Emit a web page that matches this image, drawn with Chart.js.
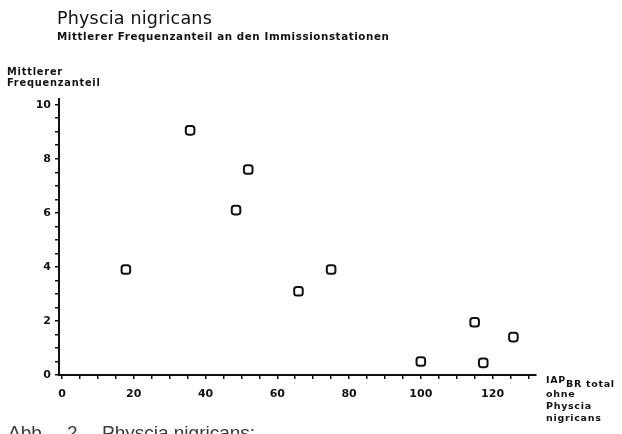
<!DOCTYPE html>
<html lang="de">
<head>
    <meta charset="UTF-8">
    <title>Physcia nigricans</title>
    <script src="https://cdn.jsdelivr.net/npm/chart.js"></script>
    <style>
        body { margin: 0; background: #fff; }
        canvas { display: block; }
    </style>
</head>
<body>
    <canvas id="scatterChart" width="622" height="434"></canvas>

    <script>
        // Werte
        const iapValues = [17.8, 35.7, 48.5, 51.9, 65.9, 75.0, 100.0, 115.0, 117.4, 125.8];
        const frequenzValues = [3.9, 9.05, 6.1, 7.6, 3.1, 3.9, 0.5, 1.95, 0.45, 1.4];

        const xTickLabels = [0, 20, 40, 60, 80, 100, 120];
        const yTickLabels = [0, 2, 4, 6, 8, 10];

        const titleText = 'Physcia nigricans';
        const subtitleText = 'Mittlerer Frequenzanteil an den Immissionstationen';
        const yTitleLines = ['Mittlerer', 'Frequenzanteil'];
        const xTitleLines = ['ohne', 'Physcia', 'nigricans'];

        const ink = '#111';
        const tickFont = { family: 'DejaVu Sans', size: 11, weight: 'bold' };

        // Beschriftungen ausserhalb der Achsen
        const textPlugin = {
            id: 'texts',
            afterDraw(chart) {
                const ctx = chart.ctx;
                ctx.save();
                ctx.fillStyle = ink;
                ctx.textAlign = 'left';
                ctx.textBaseline = 'alphabetic';

                ctx.font = '17.5px "DejaVu Sans"';
                ctx.letterSpacing = '0.2px';
                ctx.fillText(titleText, 57, 24);

                ctx.font = 'bold 10.3px "DejaVu Sans"';
                ctx.letterSpacing = '0.6px';
                ctx.fillText(subtitleText, 57, 40);

                ctx.font = 'bold 9.8px "DejaVu Sans"';
                ctx.letterSpacing = '0.8px';
                ctx.fillText(yTitleLines[0], 7, 75);
                ctx.fillText(yTitleLines[1], 7, 86);

                ctx.font = 'bold 9.5px "DejaVu Sans"';
                ctx.letterSpacing = '0.7px';
                ctx.fillText('IAP', 546, 383);
                ctx.fillText('BR total', 566, 387);
                xTitleLines.forEach((line, i) => ctx.fillText(line, 546, 397 + i * 12));

                ctx.fillStyle = '#3a3a3a';
                ctx.font = '19px "Liberation Sans"';
                ctx.letterSpacing = '0px';
                ctx.fillText('Abb.', 8, 439);
                ctx.fillText('2', 67, 439);
                ctx.fillText('Physcia nigricans:', 102, 439);
                ctx.restore();
            }
        };

        new Chart(document.getElementById('scatterChart').getContext('2d'), {
            type: 'scatter',
            data: {
                datasets: [{
                    data: iapValues.map((x, i) => ({ x: x, y: frequenzValues[i] })),
                    pointStyle: 'rectRounded',
                    pointRadius: 5,
                    pointBorderWidth: 2,
                    borderColor: ink,
                    backgroundColor: '#fff'
                }]
            },
            options: {
                responsive: false,
                animation: false,
                layout: { padding: { top: 99, right: 86, left: 0, bottom: 0 } },
                plugins: {
                    legend: { display: false },
                    tooltip: { enabled: false }
                },
                scales: {
                    x: {
                        type: 'linear',
                        min: -0.84,
                        max: 132.1,
                        afterFit: scale => { scale.height = 59; },
                        border: { color: ink, width: 2 },
                        grid: { drawOnChartArea: false, tickLength: 4, color: ink, lineWidth: 1.5 },
                        ticks: {
                            stepSize: 5,
                            includeBounds: false,
                            autoSkip: false,
                            maxRotation: 0,
                            padding: 9,
                            color: ink,
                            font: tickFont,
                            callback: value => xTickLabels.includes(value) ? String(value) : ''
                        }
                    },
                    y: {
                        min: 0,
                        max: 10.21,
                        afterFit: scale => { scale.width = 59; },
                        border: { color: ink, width: 2 },
                        grid: { drawOnChartArea: false, tickLength: 4, color: ink, lineWidth: 1.5 },
                        ticks: {
                            stepSize: 0.5,
                            includeBounds: false,
                            autoSkip: false,
                            padding: 4,
                            color: ink,
                            font: tickFont,
                            callback: value => yTickLabels.includes(value) ? String(value) : ''
                        }
                    }
                }
            },
            plugins: [textPlugin]
        });
    </script>
</body>
</html>
